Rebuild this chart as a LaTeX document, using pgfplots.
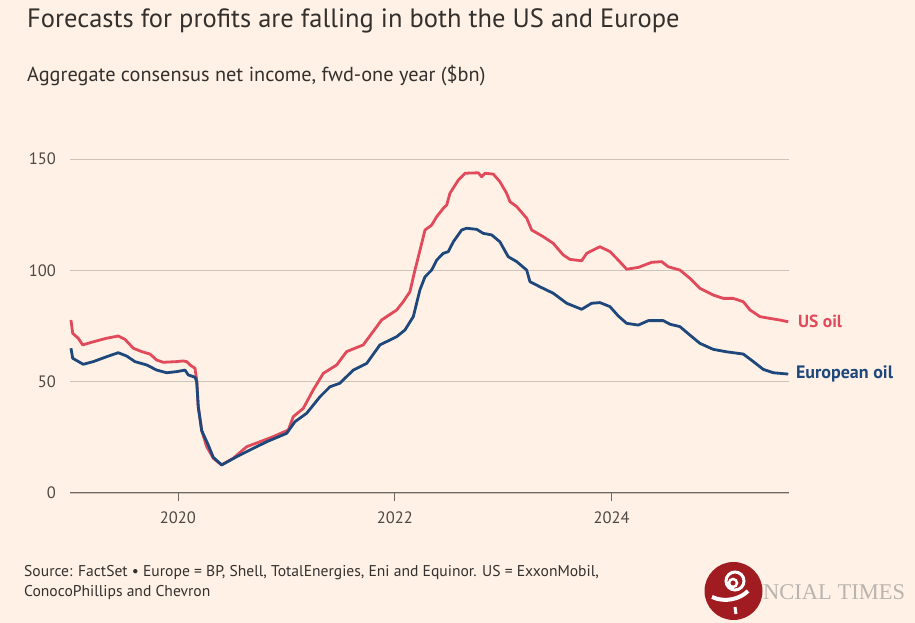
\documentclass[border=0pt]{standalone}
\usepackage{pgfplots}
\pgfplotsset{compat=1.18}
\usepackage{fontspec}
\setmainfont{PT Sans}
\newfontfamily\serifwm{Liberation Serif}
\definecolor{bg}{RGB}{255,241,229}
\definecolor{usred}{RGB}{224,74,90}
\definecolor{eublue}{RGB}{30,72,124}
\definecolor{gridc}{RGB}{206,195,185}
\definecolor{axisc}{RGB}{110,103,98}
\definecolor{txt}{RGB}{51,48,46}
\definecolor{ticktxt}{RGB}{77,72,68}
\definecolor{logored}{RGB}{160,28,32}
\definecolor{wmgrey}{RGB}{185,180,176}

\pgfplotstableread{
x y
2019.013 77.7
2019.029 71.7
2019.080 69.5
2019.121 66.5
2019.219 67.9
2019.342 69.5
2019.449 70.5
2019.511 69.0
2019.588 65.0
2019.665 63.5
2019.742 62.4
2019.804 59.7
2019.864 58.7
2019.988 59.0
2020.049 59.3
2020.080 59.0
2020.111 57.5
2020.157 56.0
2020.173 50.7
2020.187 38.8
2020.219 28.0
2020.265 20.8
2020.326 15.6
2020.403 12.6
2020.510 15.6
2020.634 20.8
2020.756 23.0
2020.879 25.3
2021.018 28.3
2021.064 34.3
2021.156 38.0
2021.248 46.3
2021.340 53.7
2021.464 57.5
2021.556 63.5
2021.709 66.5
2021.879 77.7
2022.018 82.2
2022.078 85.9
2022.140 90.4
2022.186 100.1
2022.202 103.1
2022.279 118.1
2022.340 120.3
2022.387 124.1
2022.447 127.8
2022.479 129.3
2022.509 134.6
2022.586 140.5
2022.648 143.6
2022.770 143.8
2022.802 142.0
2022.832 143.6
2022.909 143.2
2022.970 139.8
2023.032 134.6
2023.063 130.8
2023.125 128.6
2023.217 123.4
2023.263 118.1
2023.370 115.1
2023.462 112.1
2023.554 106.9
2023.616 104.9
2023.724 104.3
2023.770 107.6
2023.801 108.4
2023.893 110.6
2023.985 108.4
2024.062 104.6
2024.139 100.5
2024.246 101.3
2024.370 103.6
2024.462 103.9
2024.523 101.6
2024.631 100.1
2024.723 96.4
2024.815 91.9
2024.938 88.9
2025.030 87.4
2025.122 87.4
2025.215 85.9
2025.277 82.2
2025.369 79.2
2025.461 78.4
2025.550 77.7
2025.630 76.9
}\usdata

\pgfplotstableread{
x y
2019.013 65.0
2019.029 60.5
2019.126 57.8
2019.219 59.0
2019.342 61.2
2019.449 63.0
2019.527 61.5
2019.603 59.0
2019.711 57.5
2019.804 55.2
2019.896 54.0
2019.988 54.5
2020.065 55.2
2020.095 53.0
2020.157 52.0
2020.173 50.0
2020.187 38.8
2020.219 28.0
2020.280 21.5
2020.326 16.0
2020.403 12.6
2020.542 16.3
2020.664 19.3
2020.818 23.0
2021.003 26.8
2021.079 32.0
2021.187 35.8
2021.310 43.2
2021.402 47.7
2021.494 49.3
2021.617 55.2
2021.741 58.2
2021.863 66.5
2022.018 70.2
2022.094 73.2
2022.171 79.2
2022.232 91.2
2022.279 97.1
2022.340 100.1
2022.387 104.6
2022.447 107.6
2022.494 108.4
2022.540 112.8
2022.617 118.1
2022.663 118.9
2022.756 118.4
2022.816 116.6
2022.894 115.9
2022.970 112.8
2023.047 106.1
2023.125 103.9
2023.217 100.1
2023.247 94.9
2023.339 92.6
2023.462 89.7
2023.586 85.2
2023.724 82.5
2023.816 85.2
2023.893 85.5
2023.985 83.7
2024.062 79.5
2024.139 76.2
2024.246 75.4
2024.339 77.4
2024.477 77.4
2024.539 75.8
2024.631 74.7
2024.723 70.9
2024.815 67.2
2024.938 64.5
2025.062 63.4
2025.215 62.4
2025.308 59.0
2025.400 55.5
2025.493 54.0
2025.630 53.4
}\eudata

\begin{document}
\begin{tikzpicture}[x=1bp,y=1bp]
\fill[bg] (0,0) rectangle (915,623);
% title and subtitle
\node[anchor=base west, inner sep=0pt, text=txt, font=\fontsize{26.5bp}{29bp}\selectfont] at (27,595) {Forecasts for profits are falling in both the US and Europe};
\node[anchor=base west, inner sep=0pt, text=txt, font=\fontsize{20.3bp}{23bp}\selectfont] at (27,541) {Aggregate consensus net income, fwd-one year (\$bn)};
\begin{axis}[
  at={(70bp,130bp)}, anchor=south west,
  scale only axis, width=719bp, height=334bp,
  xmin=2019.004, xmax=2025.637, ymin=0, ymax=150,
  axis lines*=left,
  y axis line style={draw=none},
  x axis line style={draw=axisc, line width=1bp},
  xtick={2020,2022,2024}, ytick={0,50,100,150},
  xticklabels={2020,2022,2024},
  yticklabels={0,50,100,150},
  xtick align=outside, major tick length=8bp,
  xtick style={draw=axisc, line width=0.8bp},
  ytick style={draw=none},
  ymajorgrids, grid style={draw=gridc, line width=0.8bp},
  tick label style={text=ticktxt, font=\fontsize{16.5bp}{18bp}\selectfont},
  yticklabel style={anchor=east, inner sep=0pt, xshift=-14bp},
  xticklabel style={anchor=north, inner sep=0pt, yshift=-11bp},
  clip=false,
]
\addplot[usred, line width=2.8bp, line join=round] table {\usdata};
\addplot[eublue, line width=2.8bp, line join=round] table {\eudata};
\node[anchor=west, inner sep=0pt, text=usred, font=\fontsize{17.5bp}{19bp}\selectfont\bfseries] at (axis cs:2025.72,76.9) {US oil};
\node[anchor=west, inner sep=0pt, text=eublue, font=\fontsize{18bp}{19bp}\selectfont\bfseries] at (axis cs:2025.70,53.4) {European oil};
\end{axis}
% source
\node[anchor=base west, inner sep=0pt, text=txt, font=\fontsize{15.6bp}{17bp}\selectfont] at (24,46) {Source: FactSet \textbullet{} Europe = BP, Shell, TotalEnergies, Eni and Equinor. US = ExxonMobil,};
\node[anchor=base west, inner sep=0pt, text=txt, font=\fontsize{15.6bp}{17bp}\selectfont] at (24,26) {ConocoPhillips and Chevron};
% watermark
\node[anchor=west, inner sep=0pt, text=wmgrey, font=\serifwm\fontsize{22.5bp}{24bp}\selectfont] at (763,31) {NCIAL TIMES};
\fill[logored] (733.5,32) circle (29);
\draw[white, line width=3bp] (735,42) circle (9);
\draw[white, line width=2.5bp] (733,40) circle (4);
\draw[white, line width=4bp] (712,26) .. controls (725,20) and (740,24) .. (748,32);
\draw[white, line width=3bp] (735,16) -- (736,9);
\end{tikzpicture}
\end{document}
